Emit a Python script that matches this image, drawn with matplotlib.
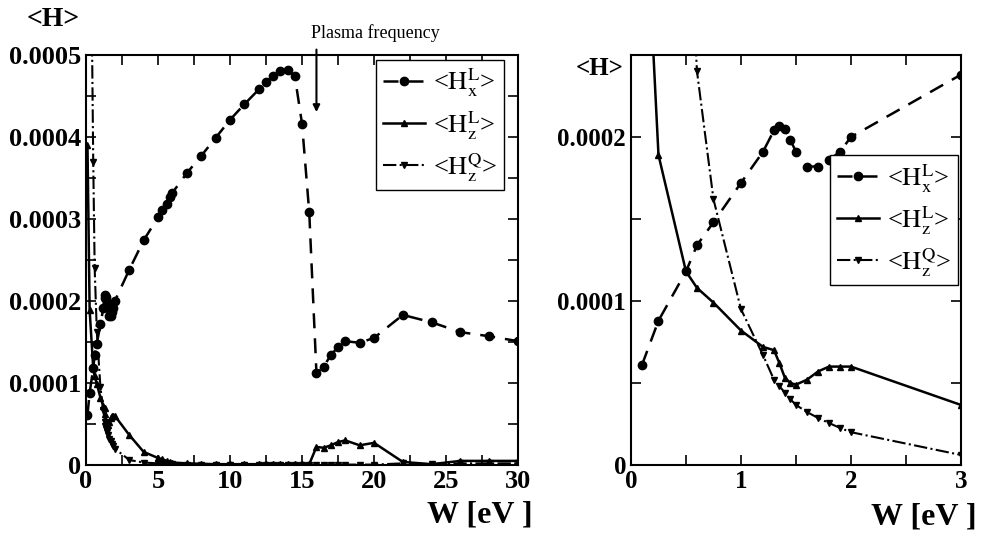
import numpy as np
import matplotlib.pyplot as plt
from matplotlib.ticker import MultipleLocator, FuncFormatter

plt.rcParams['font.family'] = ['Liberation Serif', 'DejaVu Serif']
plt.rcParams['mathtext.fontset'] = 'stix'

# energy grid [eV]
W = [0.1, 0.25, 0.5, 0.6, 0.75, 1.0, 1.2, 1.3, 1.35, 1.4, 1.45, 1.5, 1.6, 1.7,
     1.8, 1.9, 2.0, 3.0, 4.0, 5.0, 5.3, 5.6, 5.8, 6.0, 7.0, 8.0, 9.0, 10.0,
     11.0, 12.0, 12.5, 13.0, 13.5, 14.0, 14.5, 15.0, 15.5, 16.0, 16.5, 17.0,
     17.5, 18.0, 19.0, 20.0, 22.0, 24.0, 26.0, 28.0, 30.0]

Hx_L = [6.1e-5, 8.8e-5, 1.18e-4, 1.34e-4, 1.48e-4, 1.72e-4, 1.91e-4, 2.04e-4,
        2.07e-4, 2.05e-4, 1.98e-4, 1.91e-4, 1.82e-4, 1.82e-4, 1.86e-4, 1.91e-4,
        2.0e-4, 2.38e-4, 2.74e-4, 3.02e-4, 3.11e-4, 3.18e-4, 3.27e-4, 3.32e-4,
        3.56e-4, 3.77e-4, 3.99e-4, 4.21e-4, 4.4e-4, 4.58e-4, 4.67e-4, 4.74e-4,
        4.8e-4, 4.82e-4, 4.74e-4, 4.16e-4, 3.08e-4, 1.12e-4, 1.2e-4, 1.34e-4,
        1.44e-4, 1.51e-4, 1.49e-4, 1.55e-4, 1.83e-4, 1.74e-4, 1.62e-4, 1.57e-4,
        1.51e-4]

Hz_L = [3.9e-4, 1.89e-4, 1.18e-4, 1.08e-4, 9.9e-5, 8.2e-5, 7.2e-5, 7.0e-5,
        6.2e-5, 5.3e-5, 5.0e-5, 4.9e-5, 5.2e-5, 5.7e-5, 6.0e-5, 6.0e-5,
        6.0e-5, 3.66e-5, 1.6e-5, 8.5e-6, 7.0e-6, 5.0e-6, 4.0e-6, 3.0e-6,
        2.0e-6, 1.5e-6, 1.0e-6, 1.0e-6, 1.0e-6, 1.0e-6, 1.0e-6, 1.0e-6,
        1.0e-6, 1.0e-6, 1.0e-6, 1.0e-6, 1.0e-6, 2.2e-5, 2.1e-5, 2.4e-5,
        2.8e-5, 3.0e-5, 2.4e-5, 2.7e-5, 3.7e-6, 1.0e-6, 5.0e-6, 5.0e-6,
        5.0e-6]

Hz_Q = [3.0e-3, 8.0e-4, 3.7e-4, 2.4e-4, 1.62e-4, 9.5e-5, 6.7e-5, 5.2e-5,
        4.8e-5, 4.4e-5, 4.0e-5, 3.66e-5, 3.23e-5, 2.87e-5, 2.56e-5, 2.26e-5,
        2.0e-5, 6.1e-6, 3.0e-6, 2.0e-6, 1.5e-6, 1.5e-6, 1.2e-6, 1.0e-6,
        5e-7, 5e-7, 5e-7, 5e-7, 5e-7, 5e-7, 5e-7, 5e-7,
        5e-7, 5e-7, 5e-7, 5e-7, 5e-7, 5e-7, 5e-7, 5e-7,
        5e-7, 5e-7, 5e-7, 5e-7, 2.0e-6, 1.0e-6, 2.0e-6, 2.0e-6,
        2.0e-6]

labels = [r'<$\mathrm{H}_{\mathrm{x}}^{\mathrm{L}}$>',
          r'<$\mathrm{H}_{\mathrm{z}}^{\mathrm{L}}$>',
          r'<$\mathrm{H}_{\mathrm{z}}^{\mathrm{Q}}$>']


def fmt(v, pos):
    if abs(v) < 1e-12:
        return '0'
    return '%.4f' % v


def draw(ax, fs):
    ax.plot(W, Hx_L, color='black', ls='--', dashes=(6, 4), lw=1.8,
            marker='o', ms=6, label=labels[0])
    ax.plot(W, Hz_L, color='black', ls='-', lw=1.8,
            marker='^', ms=5, label=labels[1])
    ax.plot(W, Hz_Q, color='black', ls='-.', lw=1.5,
            marker='v', ms=5, label=labels[2])
    ax.yaxis.set_major_formatter(FuncFormatter(fmt))
    ax.tick_params(which='both', direction='in', top=True, right=True,
                   length=7, width=1.2, labelsize=fs)
    for lab in ax.get_xticklabels() + ax.get_yticklabels():
        lab.set_fontweight('bold')
    for s in ax.spines.values():
        s.set_linewidth(1.5)


def legend(ax, anchor):
    ax.legend(loc='upper right', bbox_to_anchor=anchor, borderaxespad=0,
              fancybox=False, edgecolor='black', fontsize=19,
              handlelength=1.6, labelspacing=0.35, borderpad=0.25,
              handletextpad=0.3, framealpha=1)


fig = plt.figure(figsize=(9.81, 5.37), dpi=100)

# left panel: full range
ax1 = fig.add_axes([0.0877, 0.1341, 0.4404, 0.7635])
ax1.set_xlim(0, 30)
ax1.set_ylim(0, 0.0005)
ax1.xaxis.set_major_locator(MultipleLocator(5))
ax1.xaxis.set_minor_locator(MultipleLocator(2.5))
ax1.yaxis.set_major_locator(MultipleLocator(0.0001))
ax1.yaxis.set_minor_locator(MultipleLocator(0.00005))
draw(ax1, 19)
legend(ax1, (0.968, 0.988))
ax1.annotate('', xy=(16, 0.000427), xytext=(16, 0.00051),
             arrowprops=dict(arrowstyle='-|>', color='black', lw=1.5),
             annotation_clip=False)
ax1.text(20.1, 0.000527, 'Plasma frequency', fontsize=13, ha='center',
         va='center', clip_on=False)

# right panel: zoom on low energies
ax2 = fig.add_axes([0.6432, 0.1341, 0.3364, 0.7635])
ax2.set_xlim(0, 3)
ax2.set_ylim(0, 0.00025)
ax2.xaxis.set_major_locator(MultipleLocator(1))
ax2.xaxis.set_minor_locator(MultipleLocator(0.5))
ax2.yaxis.set_major_locator(MultipleLocator(0.0001))
ax2.yaxis.set_minor_locator(MultipleLocator(0.00005))
draw(ax2, 18)
legend(ax2, (0.991, 0.756))

fig.text(0.054, 0.963, '<H>', fontsize=20, fontweight='bold',
         ha='center', va='center')
fig.text(0.611, 0.873, '<H>', fontsize=18, fontweight='bold',
         ha='center', va='center')
fig.text(0.543, 0.041, 'W [eV ]', fontsize=23, fontweight='bold',
         ha='right', va='center')
fig.text(0.996, 0.037, 'W [eV ]', fontsize=23, fontweight='bold',
         ha='right', va='center')

fig.savefig('out.png', dpi=100)
